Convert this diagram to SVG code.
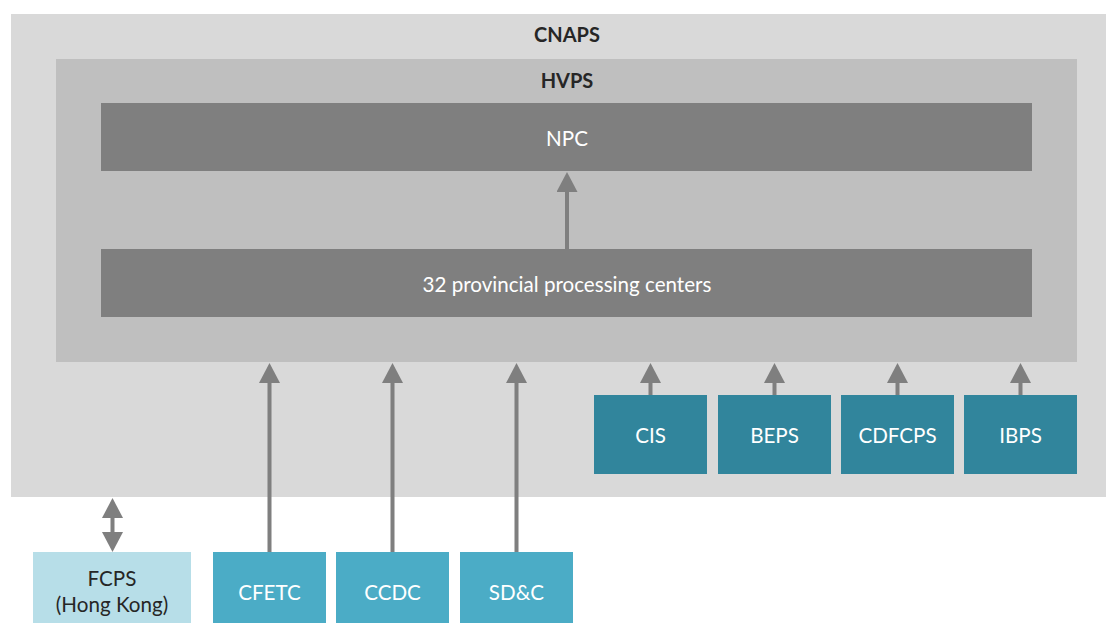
<svg xmlns="http://www.w3.org/2000/svg" width="1106" height="623" viewBox="0 0 1106 623">
<defs>
<marker id="head" markerUnits="userSpaceOnUse" markerWidth="21" markerHeight="21" viewBox="0 0 20 21" refX="0" refY="10.5" orient="auto-start-reverse">
<path d="M0,0 L20,10.5 L0,21 z" fill="#7F7F7F"/>
</marker>
<style>
text{font-family:Lato,"Open Sans","Liberation Sans",sans-serif;font-size:20.6px;text-anchor:middle}
.title{font-weight:bold;fill:#262626;font-size:20px}
.w{fill:#FFFFFF}
.d{fill:#262626}
.conn line{stroke:#7F7F7F;stroke-width:4;marker-end:url(#head)}
.teal{fill:#31859C}
.lteal{fill:#4BACC6}
.pteal{fill:#B7DEE8}
.grey{fill:#7F7F7F}
</style>
</defs>
<rect width="1106" height="623" fill="#FFFFFF"/>
<g id="cnaps">
<rect x="11" y="14" width="1095" height="483" fill="#D9D9D9"/>
<text class="title" x="567" y="42">CNAPS</text>
</g>
<g id="hvps">
<rect x="56" y="59" width="1021" height="303" fill="#BFBFBF"/>
<text class="title" x="567" y="87.5">HVPS</text>
</g>
<g id="npc">
<rect class="grey" x="101" y="103" width="931" height="68"/>
<text class="w" x="567" y="146">NPC</text>
</g>
<g id="ppc">
<rect class="grey" x="101" y="249" width="931" height="68"/>
<text class="w" x="567" y="292">32 provincial processing centers</text>
</g>
<g id="cis">
<rect class="teal" x="594" y="395" width="113" height="79"/>
<text class="w" x="650.5" y="443">CIS</text>
</g>
<g id="beps">
<rect class="teal" x="718" y="395" width="113" height="79"/>
<text class="w" x="774.5" y="443">BEPS</text>
</g>
<g id="cdfcps">
<rect class="teal" x="841" y="395" width="113" height="79"/>
<text class="w" x="897.5" y="443">CDFCPS</text>
</g>
<g id="ibps">
<rect class="teal" x="964" y="395" width="113" height="79"/>
<text class="w" x="1020.5" y="443">IBPS</text>
</g>
<g id="fcps">
<rect class="pteal" x="33" y="552" width="158" height="71"/>
<text class="d" x="112" y="586">FCPS</text>
<text class="d" x="112" y="612">(Hong Kong)</text>
</g>
<g id="cfetc">
<rect class="lteal" x="213" y="552" width="113" height="71"/>
<text class="w" x="269.5" y="600">CFETC</text>
</g>
<g id="ccdc">
<rect class="lteal" x="336" y="552" width="113" height="71"/>
<text class="w" x="392.5" y="600">CCDC</text>
</g>
<g id="sdc">
<rect class="lteal" x="460" y="552" width="113" height="71"/>
<text class="w" x="516.5" y="600">SD&amp;C</text>
</g>
<g id="connectors" class="conn">
<line x1="567" y1="249" x2="567" y2="192"/>
<line x1="650.5" y1="395" x2="650.5" y2="383"/>
<line x1="774.5" y1="395" x2="774.5" y2="383"/>
<line x1="897.5" y1="395" x2="897.5" y2="383"/>
<line x1="1020.5" y1="395" x2="1020.5" y2="383"/>
<line x1="269.5" y1="552" x2="269.5" y2="383"/>
<line x1="392.5" y1="552" x2="392.5" y2="383"/>
<line x1="516.5" y1="552" x2="516.5" y2="383"/>
<line x1="112.5" y1="518" x2="112.5" y2="532" style="marker-start:url(#head)"/>
</g>
</svg>
